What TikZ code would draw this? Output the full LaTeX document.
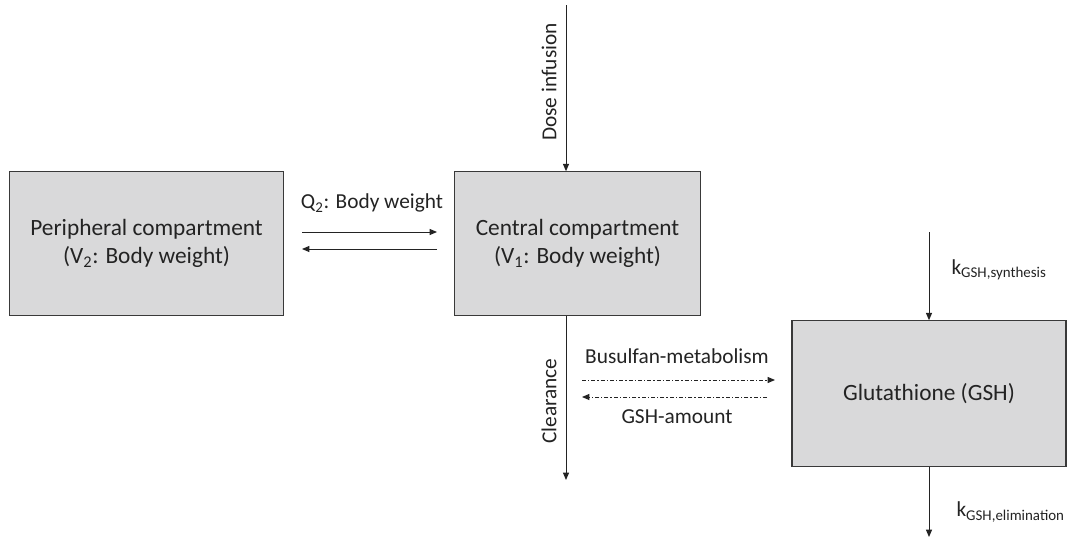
\documentclass[tikz,border=0pt]{standalone}
\usepackage{fontspec}
\setmainfont{Carlito}
\usetikzlibrary{arrows.meta}

\definecolor{boxfill}{RGB}{217,217,218}
\definecolor{inkgray}{RGB}{35,35,35}

\tikzset{every picture/.style={line width=0.75pt}}
\tikzset{
  compbox/.style={draw=inkgray!90,fill=boxfill,line width=0.9pt,inner sep=0pt,align=center,font=\fontsize{17.5}{21}\selectfont,text=inkgray},
  flowlabel/.style={inner sep=0.75pt,font=\fontsize{16}{20}\selectfont,text=inkgray},
  flow/.style={draw=inkgray,line width=0.75pt,-{Triangle[length=5.5pt,width=4.5pt]}},
  dashflow/.style={flow,dash pattern=on 3pt off 1.6pt on 0.8pt off 1.6pt}
}

\begin{document}
\begin{tikzpicture}[x=0.75pt,y=0.75pt,yscale=-1,xscale=1]
\useasboundingbox (0,0) rectangle (1070,539);

%Shape: Rectangle [peripheral]
\node [compbox,minimum width=206pt,minimum height=107.5pt] (periph) at (146.5,243.5) {Peripheral compartment\\(V\textsubscript{2}: Body weight)};
%Shape: Rectangle [central]
\node [compbox,minimum width=184pt,minimum height=107.5pt] (central) at (577.5,243.5) {Central compartment\\(V\textsubscript{1}: Body weight)};
%Shape: Rectangle [glutathione]
\node [compbox,minimum width=205.5pt,minimum height=109pt] (gsh) at (929,393.5) {Glutathione (GSH)};

%Ends of the open connectors
\coordinate (doseIn) at (566,5);
\coordinate (clearOut) at (566,480);
\coordinate (synthIn) at (929,232);
\coordinate (elimOut) at (929,537);
\coordinate (qFrom) at (302,232);
\coordinate (qTo) at (437,232);
\coordinate (qBackFrom) at (437,249);
\coordinate (qBackTo) at (302,249);
\coordinate (metFrom) at (582,380);
\coordinate (metTo) at (775,380);
\coordinate (amtFrom) at (767,397);
\coordinate (amtTo) at (582,397);

%Straight Lines [dose infusion]
\draw [flow] (doseIn) -- (doseIn |- central.north) ;
%Straight Lines [clearance]
\draw [flow] (clearOut |- central.south) -- (clearOut) ;
%Straight Lines [intercompartmental flow]
\draw [flow] (qFrom) -- (qTo) ;
\draw [flow] (qBackFrom) -- (qBackTo) ;
%Straight Lines [GSH synthesis and elimination]
\draw [flow] (synthIn) -- (gsh.north) ;
\draw [flow] (gsh.south) -- (elimOut) ;
%Straight Lines [metabolism coupling]
\draw [dashflow] (metFrom) -- (metTo) ;
\draw [dashflow] (amtFrom) -- (amtTo) ;

% Text Node
\node [flowlabel,rotate=90] (doseLbl) at (549,82) {Dose infusion};
% Text Node
\node [flowlabel,rotate=90] (clearLbl) at (549,401) {Clearance};
% Text Node
\node [flowlabel] (qLbl) at (372,203) {Q\textsubscript{2}: Body weight};
% Text Node
\node [flowlabel] (metLbl) at (677,356) {Busulfan-metabolism};
% Text Node
\node [flowlabel] (amtLbl) at (677,417) {GSH-amount};
% Text Node
\node [flowlabel,anchor=west] (synthLbl) at (950,270) {k\textsubscript{GSH,synthesis}};
% Text Node
\node [flowlabel,anchor=west] (elimLbl) at (955,512) {k\textsubscript{GSH,elimination}};

\end{tikzpicture}
\end{document}
